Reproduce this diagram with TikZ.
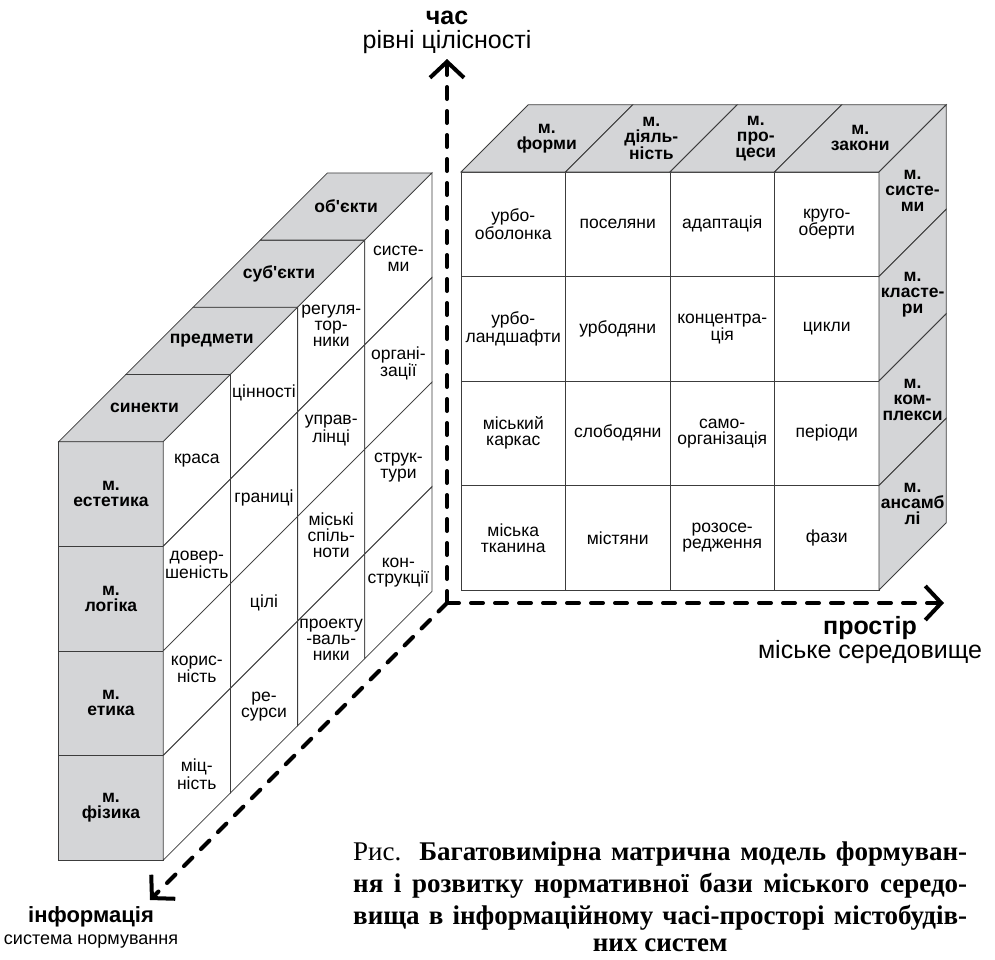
\documentclass[tikz,border=0pt]{standalone}
\usepackage{fontspec}
\setmainfont{Liberation Sans}
\newfontfamily\capfont{Liberation Serif}
\usetikzlibrary{arrows.meta}
\definecolor{facegray}{RGB}{212,213,215}
\definecolor{gridline}{RGB}{60,60,60}

\begin{document}
\begin{tikzpicture}[x=1pt, y=-1pt,
    cell/.style={draw=gridline, line width=0.8pt, fill=white},
    shade/.style={cell, fill=facegray},
    txt/.style={align=center, inner sep=0pt, font=\fontsize{17.5}{16}\selectfont},
    btxt/.style={txt, font=\fontsize{17.5}{16}\selectfont\bfseries},
    axis/.style={line width=4pt, line cap=round, dash pattern=on 12pt off 12pt,
      -{Straight Barb[length=16pt,width=34pt]}},
    axlab/.style={align=center, inner sep=0pt, font=\fontsize{25}{24}\selectfont}]
  \useasboundingbox (0,0) rectangle (995,959);

  % left block, front
  \begin{scope}[shift={(58.7,441.7)}, x={(104.5pt,0pt)}, y={(0pt,-104.6pt)}]
    \foreach \txt [count=\row from 0] in {естетика, логіка, етика, фізика}{
      \draw[shade] (0,\row) -- (1,\row) -- (1,\row+1) -- (0,\row+1) -- cycle;
      \node[btxt] (lf\row) at (0.5,\row+0.5) {м.\\\txt};
    }
  \end{scope}
  % left block, top
  \begin{scope}[shift={(58.7,441.7)}, x={(104.5pt,0pt)}, y={(67.2pt,67.2pt)}]
    \foreach \txt [count=\dep from 0] in {синекти, предмети,
        суб\textquotesingle єкти, об\textquotesingle єкти}{
      \draw[shade] (0,\dep) -- (1,\dep) -- (1,\dep+1) -- (0,\dep+1) -- cycle;
      \node[btxt] (lt\dep) at (0.5,\dep+0.5) {\txt};
    }
  \end{scope}
  % left block, side
  \begin{scope}[shift={(163.2,441.7)}, x={(67.2pt,67.2pt)}, y={(0pt,-104.6pt)}]
    \foreach \dep/\row/\txt in {0/0/краса, 0/1/довер-\\шеність, 0/2/корис-\\ність,
        0/3/міц-\\ність, 1/0/цінності, 1/1/границі, 1/2/цілі, 1/3/ре-\\сурси,
        2/0/регуля-\\тор-\\ники, 2/1/управ-\\лінці, 2/2/міські\\спіль-\\ноти,
        2/3/проекту\\-валь-\\ники, 3/0/систе-\\ми, 3/1/органі-\\зації,
        3/2/струк-\\тури, 3/3/кон-\\струкції}{
      \draw[cell] (\dep,\row) -- (\dep+1,\row) -- (\dep+1,\row+1) -- (\dep,\row+1) -- cycle;
      \node[txt] (ls\dep\row) at (\dep+0.5,\row+0.5) {\txt};
    }
  \end{scope}

  % right block, front
  \begin{scope}[shift={(461,172)}, x={(104.5pt,0pt)}, y={(0pt,-104.5pt)}]
    \foreach \col/\row/\txt in {0/0/урбо-\\оболонка, 1/0/поселяни, 2/0/адаптація,
        3/0/круго-\\оберти, 0/1/урбо-\\ландшафти, 1/1/урбодяни, 2/1/концентра-\\ція,
        3/1/цикли, 0/2/міський\\каркас, 1/2/слободяни, 2/2/само-\\організація,
        3/2/періоди, 0/3/міська\\тканина, 1/3/містяни, 2/3/розосе-\\редження, 3/3/фази}{
      \draw[cell] (\col,\row) -- (\col+1,\row) -- (\col+1,\row+1) -- (\col,\row+1) -- cycle;
      \node[txt] (rf\col\row) at (\col+0.5,\row+0.5) {\txt};
    }
  \end{scope}
  % right block, top
  \begin{scope}[shift={(461,172)}, x={(104.5pt,0pt)}, y={(67.2pt,67.2pt)}]
    \foreach \txt [count=\col from 0] in {форми, діяль-\\ність, про-\\цеси, закони}{
      \draw[shade] (\col,0) -- (\col+1,0) -- (\col+1,1) -- (\col,1) -- cycle;
      \node[btxt] (rt\col) at (\col+0.5,0.5) {м.\\\txt};
    }
  \end{scope}
  % right block, side
  \begin{scope}[shift={(879,172)}, x={(67.2pt,67.2pt)}, y={(0pt,-104.5pt)}]
    \foreach \txt [count=\row from 0] in {систе-\\ми, класте-\\ри, ком-\\плекси, ансамб\\лі}{
      \draw[shade] (0,\row) -- (1,\row) -- (1,\row+1) -- (0,\row+1) -- cycle;
      \node[btxt] (rs\row) at (0.5,\row+0.5) {м.\\\txt};
    }
  \end{scope}

  % axes
  \coordinate (O) at (447,603);
  \coordinate (T) at (447,59);
  \coordinate (S) at (944,603);
  \coordinate (I) at (150,900);
  \draw[axis] (O) -- (T);
  \draw[axis] (O) -- (S);
  \draw[axis] (O) -- (I);
  \node[axlab] (tlab) at (447,32) {\textbf{час}\\рівні цілісності};
  \node[axlab] (slab) at (870,640) {\textbf{простір}\\міське середовище};
  \node[axlab, font=\fontsize{18}{22}\selectfont] (ilab) at (91,927)
    {\fontsize{22}{22}\selectfont\textbf{інформація}\\система нормування};

  % caption
  \node[anchor=north west, inner sep=0pt, text width=614pt, align=justify,
    font=\capfont\fontsize{27}{32}\selectfont] (cap) at (353,842)
    {Рис. \textbf{Багатовимірна матрична модель формуван-\linebreak
     ня і розвитку нормативної бази міського середо-\linebreak
     вища в інформаційному часі-просторі містобудів-\vspace{-5pt}\linebreak
     \hspace*{\fill}них систем\hspace*{\fill}\null}};
\end{tikzpicture}
\end{document}
